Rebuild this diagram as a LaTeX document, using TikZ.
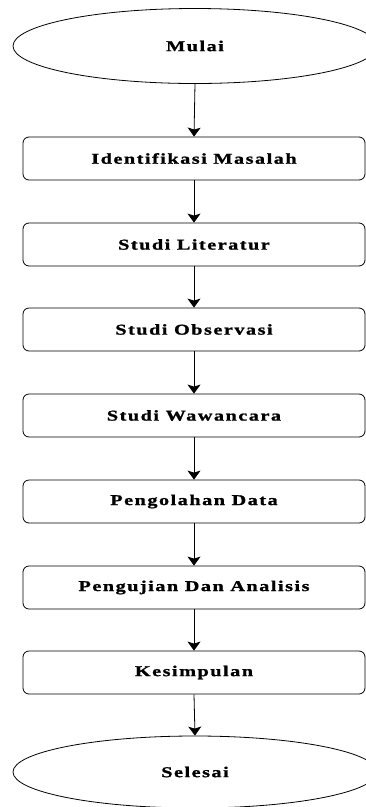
\documentclass[tikz,border=0pt]{standalone}
\usepackage{fontspec}
\setmainfont{Liberation Serif}[FakeStretch=1.35, LetterSpace=10, BoldFeatures={FakeBold=1.2}]
\usetikzlibrary{shapes.geometric,arrows.meta}
\begin{document}
\begin{tikzpicture}[x=1pt,y=-1pt,
  every node/.style={font=\fontsize{15}{17}\selectfont\bfseries},
  terminal/.style={draw, line width=0.8pt, ellipse, minimum width=364pt, minimum height=75pt, inner sep=0pt},
  stepbox/.style={draw, line width=0.8pt, rounded corners=6pt, minimum width=342pt, minimum height=43pt, inner sep=0pt},
  flow/.style={line width=0.8pt, -{Stealth[length=9pt,width=13pt,inset=2pt]}}]
  \useasboundingbox (0,0) rectangle (366,807);
  \clip (0,0) rectangle (366,807);
  \node[terminal] (mulai) at (195,46) {Mulai};
  \node[stepbox] (s1) at (194,158.5) {Identifikasi Masalah};
  \node[stepbox] (s2) at (194,244.5) {Studi Literatur};
  \node[stepbox] (s3) at (194,329.5) {Studi Observasi};
  \node[stepbox] (s4) at (194,415.5) {Studi Wawancara};
  \node[stepbox] (s5) at (194,501.5) {Pengolahan Data};
  \node[stepbox] (s6) at (194,587.5) {Pengujian Dan Analisis};
  \node[stepbox] (s7) at (194,672.5) {Kesimpulan};
  \node[terminal,minimum height=72pt] (selesai) at (195,772) {Selesai};
  \draw[flow] (mulai.south) -- (s1.north);
  \draw[flow] (s1) -- (s2);
  \draw[flow] (s2) -- (s3);
  \draw[flow] (s3) -- (s4);
  \draw[flow] (s4) -- (s5);
  \draw[flow] (s5) -- (s6);
  \draw[flow] (s6) -- (s7);
  \draw[flow] (s7.south) -- (selesai.north);
\end{tikzpicture}
\end{document}
